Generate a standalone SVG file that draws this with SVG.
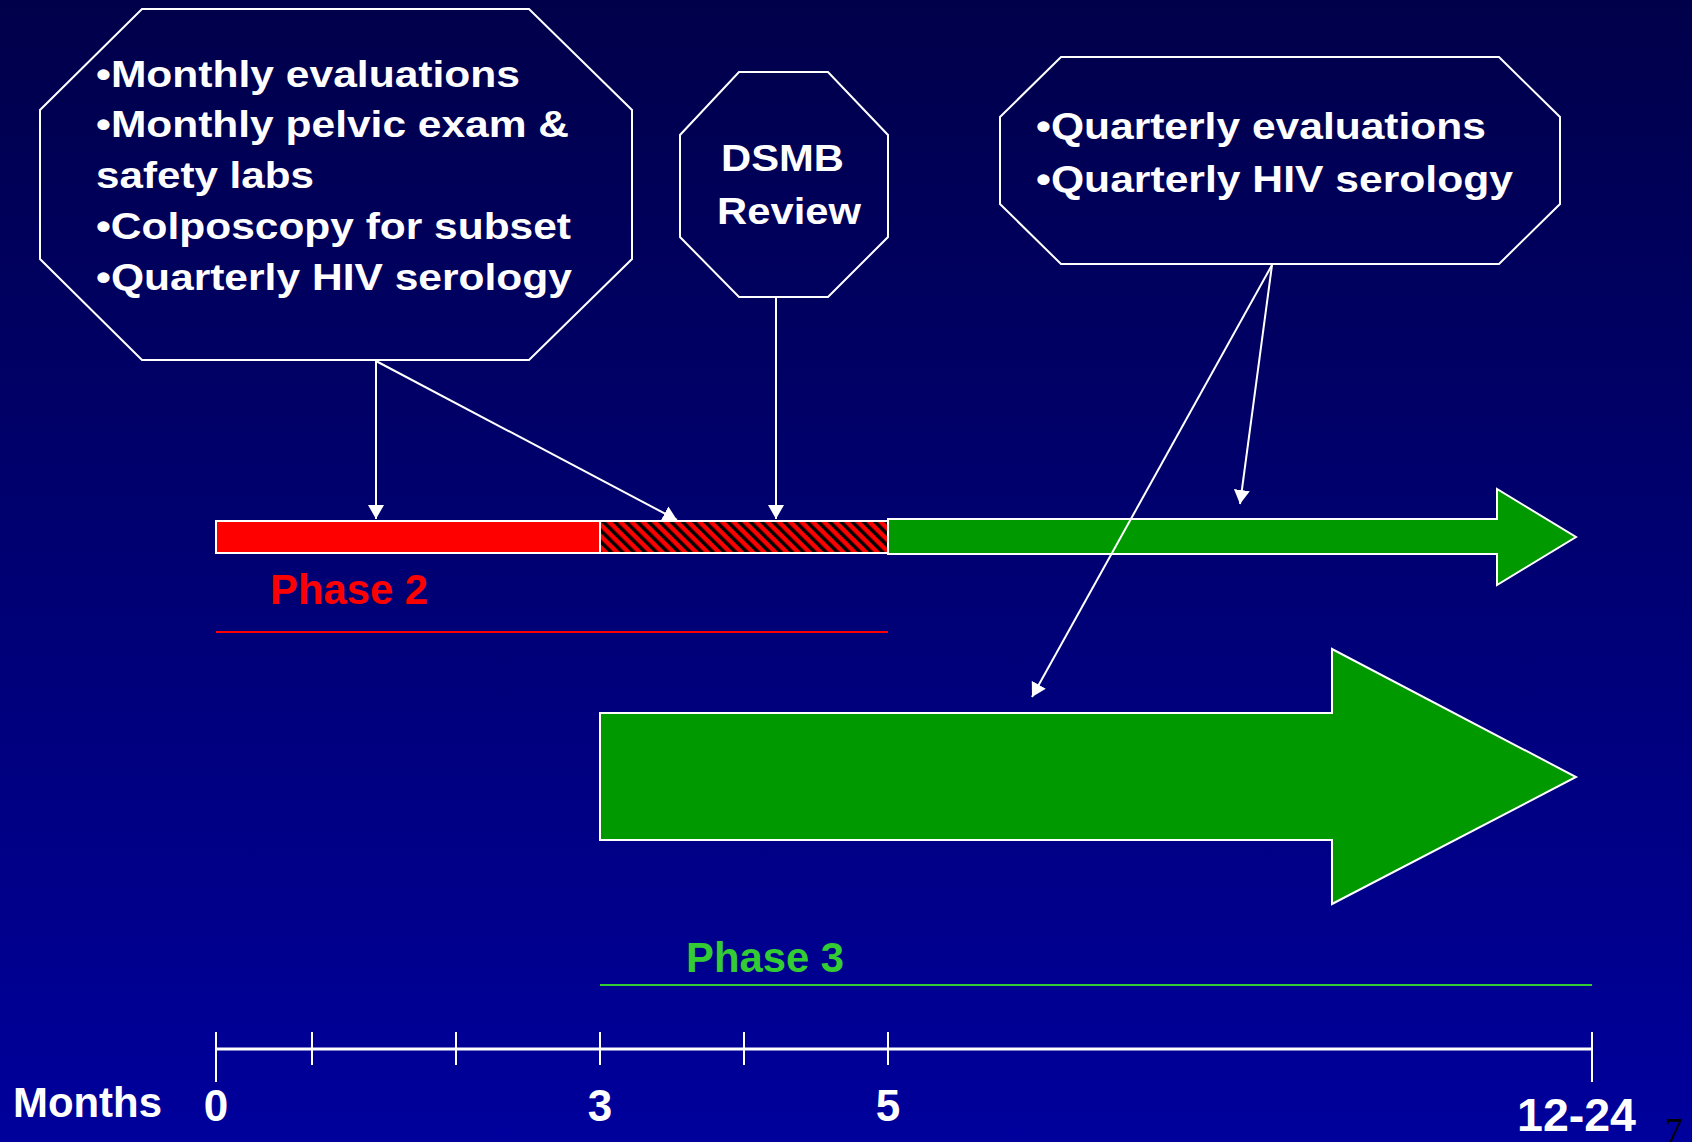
<svg xmlns="http://www.w3.org/2000/svg" width="1692" height="1142" viewBox="0 0 1692 1142">
  <style>
    .box { fill: none; stroke: #ffffff; stroke-width: 2; }
    .btxt { font-family: "Liberation Sans", Arial, sans-serif; font-weight: bold; font-size: 36px; fill: #ffffff; }
    .conn { stroke: #ffffff; stroke-width: 2; fill: none; marker-end: url(#ah); }
    .axis { stroke: #ffffff; stroke-width: 2; }
    .lbl { font-family: "Liberation Sans", Arial, sans-serif; font-weight: bold; fill: #ffffff; }
    .phase { font-family: "Liberation Sans", Arial, sans-serif; font-weight: bold; font-size: 43px; }
    .shape { stroke: #ffffff; stroke-width: 2; }
  </style>
  <defs>
    <linearGradient id="bg" x1="0" y1="0" x2="0" y2="1">
      <stop offset="0" stop-color="#00004A"/>
      <stop offset="1" stop-color="#00009C"/>
    </linearGradient>
    <pattern id="hatch" patternUnits="userSpaceOnUse" width="8" height="8" patternTransform="rotate(-45)">
      <rect x="0" y="0" width="8" height="8" fill="#FF0000"/>
      <rect x="0" y="0" width="3.5" height="8" fill="#000000"/>
    </pattern>
    <marker id="ah" markerUnits="userSpaceOnUse" markerWidth="16" markerHeight="16" refX="14" refY="8" orient="auto">
      <path d="M0,0 L14,8 L0,16 z" fill="#ffffff"/>
    </marker>
    <clipPath id="abovebar">
      <rect x="0" y="0" width="1692" height="520"/>
    </clipPath>
  </defs>

  <rect x="0" y="0" width="1692" height="1142" fill="url(#bg)"/>

  <g id="box-phase2-evals">
    <polygon class="box" points="142,9 529,9 632,110 632,259 529,360 142,360 40,259 40,110"/>
    <text class="btxt" x="96" y="87" textLength="424" lengthAdjust="spacingAndGlyphs">•Monthly evaluations</text>
    <text class="btxt" x="96" y="137" textLength="473" lengthAdjust="spacingAndGlyphs">•Monthly pelvic exam &amp;</text>
    <text class="btxt" x="96" y="188" textLength="218" lengthAdjust="spacingAndGlyphs">safety labs</text>
    <text class="btxt" x="96" y="239" textLength="475" lengthAdjust="spacingAndGlyphs">•Colposcopy for subset</text>
    <text class="btxt" x="96" y="290" textLength="476" lengthAdjust="spacingAndGlyphs">•Quarterly HIV serology</text>
  </g>

  <g id="box-dsmb">
    <polygon class="box" points="739,72 828,72 888,135 888,237 828,297 739,297 680,237 680,135"/>
    <text class="btxt" x="721" y="171" textLength="123" lengthAdjust="spacingAndGlyphs">DSMB</text>
    <text class="btxt" x="717" y="224" textLength="144" lengthAdjust="spacingAndGlyphs">Review</text>
  </g>

  <g id="box-phase3-evals">
    <polygon class="box" points="1061,57 1499,57 1560,117 1560,204 1499,264 1061,264 1000,204 1000,117"/>
    <text class="btxt" x="1036" y="139" textLength="450" lengthAdjust="spacingAndGlyphs">•Quarterly evaluations</text>
    <text class="btxt" x="1036" y="192" textLength="477" lengthAdjust="spacingAndGlyphs">•Quarterly HIV serology</text>
  </g>

  <g id="phase2-bar">
    <rect class="shape" x="216" y="521" width="384" height="32" fill="#FF0000"/>
    <rect class="shape" x="600" y="521" width="288" height="32" fill="url(#hatch)"/>
  </g>

  <g id="phase3-small-arrow">
    <polygon class="shape" fill="#009900" points="888,519 1497,519 1497,489 1576,537 1497,585 1497,554 888,554"/>
  </g>

  <g id="phase2-label">
    <text class="phase" x="270" y="604" fill="#FF0000" textLength="158" lengthAdjust="spacingAndGlyphs">Phase 2</text>
    <line x1="216" y1="632" x2="888" y2="632" stroke="#FF0000" stroke-width="2"/>
  </g>

  <g id="phase3-big-arrow">
    <polygon class="shape" fill="#009900" points="600,713 1332,713 1332,649 1576,777 1332,904 1332,840 600,840"/>
  </g>

  <g id="phase3-label">
    <text class="phase" x="686" y="972" fill="#33CC33" textLength="158" lengthAdjust="spacingAndGlyphs">Phase 3</text>
    <line x1="600" y1="985" x2="1592" y2="985" stroke="#33CC33" stroke-width="2"/>
  </g>

  <g id="timeline">
    <line x1="216" y1="1049" x2="1592" y2="1049" stroke="#ffffff" stroke-width="3"/>
    <line class="axis" x1="216" y1="1032" x2="216" y2="1082"/>
    <line class="axis" x1="312" y1="1032" x2="312" y2="1065"/>
    <line class="axis" x1="456" y1="1032" x2="456" y2="1065"/>
    <line class="axis" x1="600" y1="1032" x2="600" y2="1065"/>
    <line class="axis" x1="744" y1="1032" x2="744" y2="1065"/>
    <line class="axis" x1="888" y1="1032" x2="888" y2="1065"/>
    <line class="axis" x1="1592" y1="1032" x2="1592" y2="1082"/>
    <text class="lbl" x="13" y="1117" font-size="43" textLength="149" lengthAdjust="spacingAndGlyphs">Months</text>
    <text class="lbl" x="216" y="1121" font-size="44" text-anchor="middle">0</text>
    <text class="lbl" x="600" y="1121" font-size="44" text-anchor="middle">3</text>
    <text class="lbl" x="888" y="1121" font-size="44" text-anchor="middle">5</text>
    <text class="lbl" x="1517" y="1131" font-size="46" textLength="119" lengthAdjust="spacingAndGlyphs">12-24</text>
  </g>

  <g id="connectors">
    <line class="conn" x1="376" y1="361" x2="376" y2="519"/>
    <line class="conn" x1="376" y1="361" x2="677" y2="520" clip-path="url(#abovebar)"/>
    <line class="conn" x1="776" y1="297" x2="776" y2="519"/>
    <line class="conn" x1="1272" y1="265" x2="1240" y2="504"/>
    <line class="conn" x1="1272" y1="265" x2="1032" y2="697"/>
  </g>

  <text x="1665" y="1143" font-family="'Liberation Serif', 'Times New Roman', serif" font-size="36" fill="#000000">7</text>
</svg>
